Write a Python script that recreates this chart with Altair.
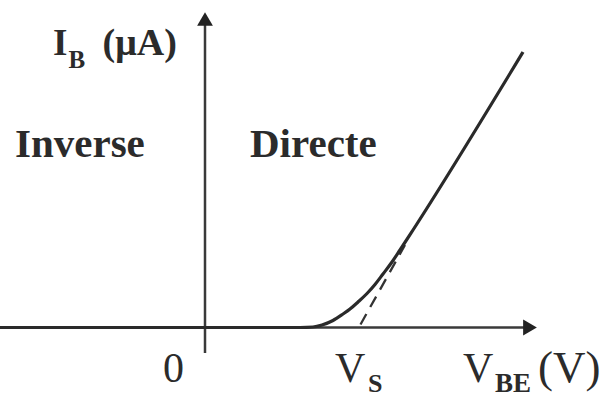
import altair as alt
import pandas as pd

# I_B(V_BE) characteristic of the base-emitter junction (V, uA)
curve_v = [-0.82, 0.38, 0.432, 0.468, 0.512, 0.552, 0.58, 0.612, 0.648, 0.68,
           0.712, 0.748, 0.78, 0.832, 1.272]
curve_i = [0.0, 0.0, 0.1, 0.5, 1.4, 2.7, 3.7, 5.1, 6.8, 8.6,
           10.7, 13.1, 15.5, 19.5, 55.1]

# straight part extrapolated down to the V axis, crossing it at V_S
tangent_v = [0.622, 0.80]
tangent_i = [0.6, 16.5]

# extent of the two drawn axes
h_axis_v = [-0.82, 1.30]
v_axis_i = [-5.1, 61.7]

# regular labels: text, anchor V, anchor I, font size
plain_text = ["0", "V", "V", "(V)"]
plain_v = [-0.168, 0.52, 1.032, 1.332]
plain_i = [-10.9, -10.9, -10.9, -10.9]
plain_size = [42, 42, 42, 45]

# bold labels: axis name, subscripts and the two regions
bold_text = ["I", "B", "(\u03bcA)", "S", "BE", "Inverse", "Directe"]
bold_v = [-0.608, -0.546, -0.41, 0.652, 1.16, -0.76, 0.18]
bold_i = [54.5, 52.0, 54.5, -12.9, -12.9, 34.1, 34.1]
bold_size = [37, 25, 38, 26, 27, 41, 41]

ink = "#2b2b2b"
xs = alt.Scale(domain=[-0.82, 1.604], nice=False, zero=False)
ys = alt.Scale(domain=[-13.9, 65.5], nice=False, zero=False)

curve_df = pd.DataFrame({"v": curve_v, "i": curve_i})
tangent_df = pd.DataFrame({"v": tangent_v, "i": tangent_i})
h_axis_df = pd.DataFrame({"v": [h_axis_v[0]], "v2": [h_axis_v[1]], "i": [0.0]})
v_axis_df = pd.DataFrame({"v": [0.0], "i": [v_axis_i[0]], "i2": [v_axis_i[1]]})
heads_df = pd.DataFrame({
    "v": [0.0, h_axis_v[1]],
    "i": [v_axis_i[1], 0.0],
    "shape": ["triangle-up", "triangle-right"],
})
plain_df = pd.DataFrame({"v": plain_v, "i": plain_i, "t": plain_text, "s": plain_size})
bold_df = pd.DataFrame({"v": bold_v, "i": bold_i, "t": bold_text, "s": bold_size})

X = alt.X("v:Q", scale=xs, axis=None)
Y = alt.Y("i:Q", scale=ys, axis=None)

h_axis = alt.Chart(h_axis_df).mark_rule(color="#3a3a3a", strokeWidth=2.5).encode(
    x=X, x2="v2:Q", y=Y
)
v_axis = alt.Chart(v_axis_df).mark_rule(color="#3a3a3a", strokeWidth=2.5).encode(
    x=X, y=Y, y2="i2:Q"
)
heads = alt.Chart(heads_df).mark_point(filled=True, opacity=1, color="#222222", size=250).encode(
    x=X, y=Y, shape=alt.Shape("shape:N", scale=None)
)
tangent = alt.Chart(tangent_df).mark_line(
    color="#333333", strokeWidth=2.3, strokeDash=[12, 8]
).encode(x=X, y=Y)
curve = alt.Chart(curve_df).mark_line(
    color="#2a2a2a", strokeWidth=3.2, interpolate="monotone"
).encode(x=X, y=Y)

plain = alt.Chart(plain_df).mark_text(
    font="Liberation Serif", align="left", baseline="alphabetic", color=ink
).encode(x=X, y=Y, text="t:N", size=alt.Size("s:Q", scale=None))
bold = alt.Chart(bold_df).mark_text(
    font="Liberation Serif", fontWeight="bold",
    align="left", baseline="alphabetic", color=ink
).encode(x=X, y=Y, text="t:N", size=alt.Size("s:Q", scale=None))

chart = (
    alt.layer(h_axis, v_axis, tangent, curve, heads, plain, bold)
    .properties(
        width=606, height=397, padding=0,
        autosize=alt.AutoSizeParams(type="none"),
        background="white",
    )
    .configure_view(stroke=None)
)

chart.save("out.html", embed_options={"renderer": "svg", "actions": False})
